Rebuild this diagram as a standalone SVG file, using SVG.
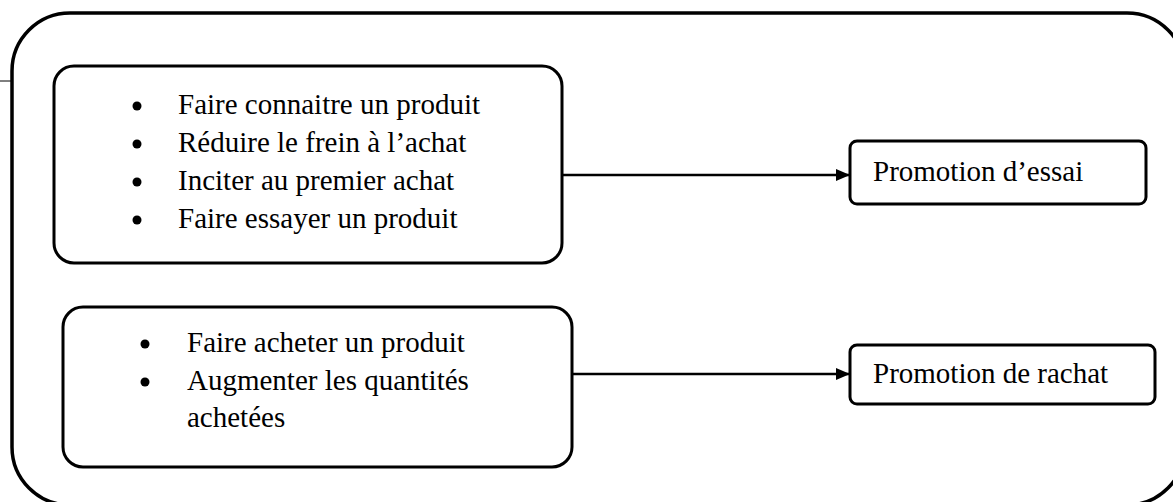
<svg xmlns="http://www.w3.org/2000/svg" width="1173" height="502" viewBox="0 0 1173 502">
  <defs>
    <style>
      .frame { fill: none; stroke: #000; stroke-width: 3.5; }
      .box { fill: #fff; stroke: #000; stroke-width: 3; }
      .link { fill: none; stroke: #000; stroke-width: 2.5; }
      .txt { font-family: "Liberation Serif", "Times New Roman", serif; font-size: 29px; fill: #000; }
      .dot { fill: #000; }
    </style>
    <marker id="arrow" viewBox="0 0 14 12" refX="14" refY="6" markerWidth="14" markerHeight="12" markerUnits="userSpaceOnUse" orient="auto">
      <path d="M0,0 L14,6 L0,12 Z" fill="#000"/>
    </marker>
  </defs>
  <rect width="1173" height="502" fill="#fff"/>

  <!-- outer frame -->
  <g id="frame">
    <rect class="frame" x="12" y="13" width="1173" height="492" rx="58" ry="58"/>
    <line x1="0" y1="81" x2="12" y2="81" stroke="#000" stroke-width="1"/>
  </g>

  <!-- connectors -->
  <g id="connectors">
    <line class="link" x1="562" y1="175" x2="850" y2="175" marker-end="url(#arrow)"/>
    <line class="link" x1="572" y1="374" x2="850" y2="374" marker-end="url(#arrow)"/>
  </g>

  <!-- objectives: trial -->
  <g id="objectifs-essai">
    <rect class="box" x="54" y="66" width="508" height="197" rx="20" ry="20"/>
    <circle class="dot" cx="137" cy="106" r="4.5"/>
    <circle class="dot" cx="137" cy="144" r="4.5"/>
    <circle class="dot" cx="137" cy="182" r="4.5"/>
    <circle class="dot" cx="137" cy="220" r="4.5"/>
    <text class="txt" x="178" y="114">Faire connaitre un produit</text>
    <text class="txt" x="178" y="152">Réduire le frein à l’achat</text>
    <text class="txt" x="178" y="190">Inciter au premier achat</text>
    <text class="txt" x="178" y="228">Faire essayer un produit</text>
  </g>

  <!-- objectives: repurchase -->
  <g id="objectifs-rachat">
    <rect class="box" x="63" y="307" width="509" height="160" rx="20" ry="20"/>
    <circle class="dot" cx="145" cy="344" r="4.5"/>
    <circle class="dot" cx="145" cy="382" r="4.5"/>
    <text class="txt" x="187" y="352">Faire acheter un produit</text>
    <text class="txt" x="187" y="390">Augmenter les quantités</text>
    <text class="txt" x="187" y="427">achetées</text>
  </g>

  <!-- promotion types -->
  <g id="promotion-essai">
    <rect class="box" x="850" y="141" width="296" height="63" rx="7" ry="7"/>
    <text class="txt" x="873" y="181">Promotion d’essai</text>
  </g>
  <g id="promotion-rachat">
    <rect class="box" x="850" y="345" width="305" height="59" rx="7" ry="7"/>
    <text class="txt" x="873" y="383">Promotion de rachat</text>
  </g>
</svg>
